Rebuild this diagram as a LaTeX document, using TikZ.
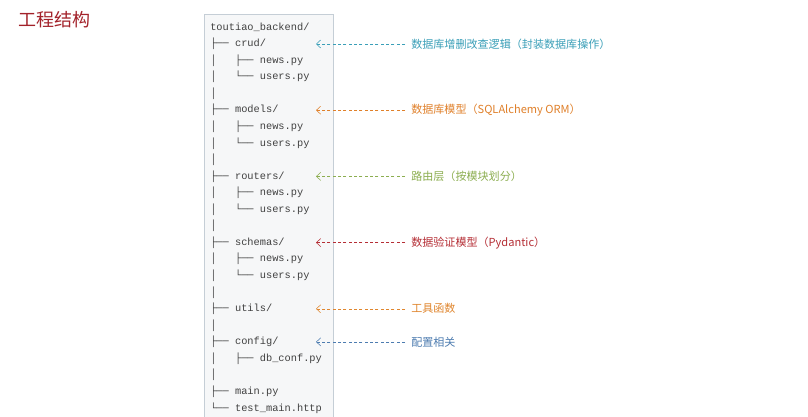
\documentclass[tikz,border=0pt]{standalone}
\usepackage{fontspec}
\setmonofont{Liberation Mono}
\newfontfamily\cjk{Noto Sans CJK SC}
\usetikzlibrary{arrows.meta}
\definecolor{titlered}{HTML}{A3222A}
\definecolor{crudc}{HTML}{3A9FB8}
\definecolor{modelc}{HTML}{E0802A}
\definecolor{routec}{HTML}{8CAE50}
\definecolor{schemac}{HTML}{B52E35}
\definecolor{utilc}{HTML}{E0862E}
\definecolor{confc}{HTML}{4D7CB0}
\definecolor{treegray}{HTML}{404040}
\definecolor{boxfill}{HTML}{F6F7F8}
\definecolor{boxline}{HTML}{C5CED6}

\begin{document}
\begin{tikzpicture}[x=0.75pt, y=-0.75pt]
	\tikzset{
		treeline/.style={anchor=west, inner sep=0pt, text=treegray, font=\ttfamily\fontsize{7.75}{8}\selectfont},
		note/.style={anchor=west, inner sep=0pt, font=\cjk\fontsize{8.3}{9}\selectfont},
		hint/.style={thin, dash pattern=on 2.2pt off 1.8pt, shorten <=4.5pt, -{Straight Barb[length=3.2pt, width=6pt]}}
	}
	\useasboundingbox (0,0) rectangle (808,417);
	\fill[white] (0,0) rectangle (808,417);
	
	\node[anchor=west, inner sep=0pt, text=titlered, font=\cjk\fontsize{13.5}{15}\selectfont] (title) at (18,20) {工程结构};
	
	% directory tree
	\draw[boxline, fill=boxfill] (204,14) rectangle (333,425);
	\foreach \txt [count=\i from 0] in {
		toutiao\_backend/, ├──~crud/, │~~~├──~news.py, │~~~└──~users.py, │,
		├──~models/, │~~~├──~news.py, │~~~└──~users.py, │,
		├──~routers/, │~~~├──~news.py, │~~~└──~users.py, │,
		├──~schemas/, │~~~├──~news.py, │~~~└──~users.py, │,
		├──~utils/, │,
		├──~config/, │~~~├──~db\_conf.py, │,
		├──~main.py, └──~test\_main.http}
		\node[treeline] (r\i) at (210,27.5+16.55*\i) {\txt};
	
	% notes
	\node[note, text=crudc] (ncrud) at (411,44) {数据库增删改查逻辑（封装数据库操作）};
	\node[note, text=modelc] (nmodel) at (411,110.2) {数据库模型（SQLAlchemy ORM）};
	\node[note, text=routec] (nroute) at (411,176.4) {路由层（按模块划分）};
	\node[note, text=schemac] (nschema) at (411,242.6) {数据验证模型（Pydantic）};
	\node[note, text=utilc] (nutil) at (411,308.8) {工具函数};
	\node[note, text=confc] (nconf) at (411,341.9) {配置相关};
	
	\coordinate (tcrud) at (316,44);
	\coordinate (tmodel) at (316,110.2);
	\coordinate (troute) at (316,176.4);
	\coordinate (tschema) at (316,242.6);
	\coordinate (tutil) at (316,308.8);
	\coordinate (tconf) at (316,341.9);
	
	\draw[hint, crudc] (ncrud.west) -- (tcrud);
	\draw[hint, modelc] (nmodel.west) -- (tmodel);
	\draw[hint, routec] (nroute.west) -- (troute);
	\draw[hint, schemac] (nschema.west) -- (tschema);
	\draw[hint, utilc] (nutil.west) -- (tutil);
	\draw[hint, confc] (nconf.west) -- (tconf);
\end{tikzpicture}
\end{document}
